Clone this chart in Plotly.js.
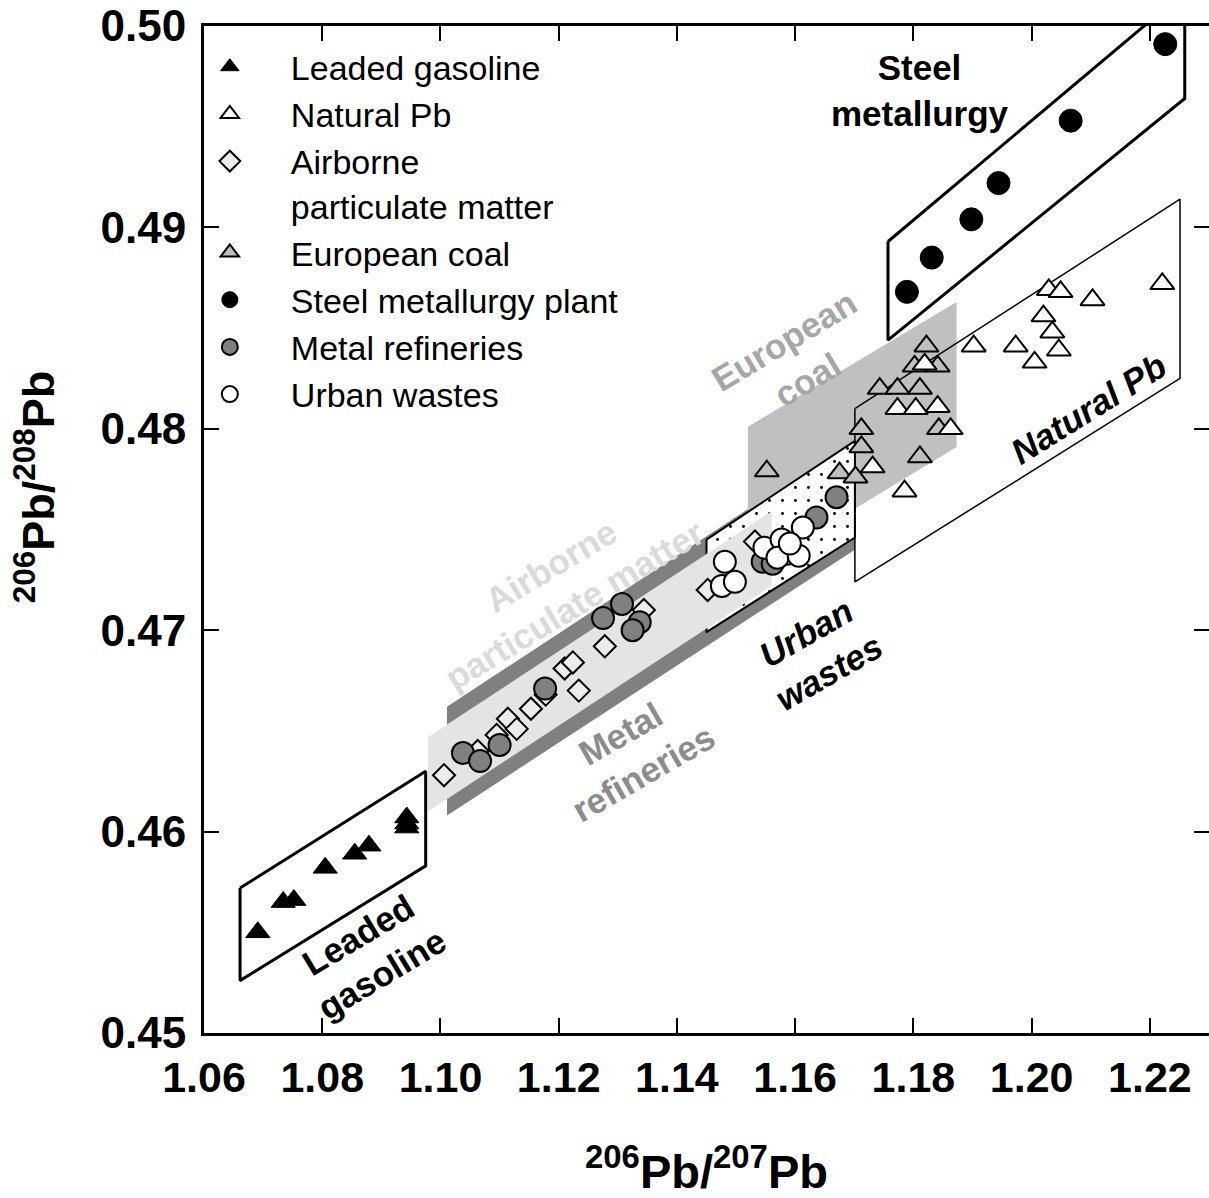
<!DOCTYPE html>
<html>
<head>
<meta charset="utf-8">
<script src="https://cdn.plot.ly/plotly-3.0.1.min.js"></script>
<style>html,body{margin:0;padding:0;background:#fff;}#chart{width:1209px;height:1198px;}</style>
</head>
<body>
<div id="chart"></div>
<script>
// ---------- Data points (206Pb/207Pb, 206Pb/208Pb) ----------
const leadedX = [1.0691, 1.0734, 1.0752, 1.0805, 1.0855, 1.0879, 1.0943, 1.0943, 1.0943];
const leadedY = [0.4550, 0.4565, 0.4566, 0.4582, 0.4589, 0.4593, 0.4607, 0.4604, 0.4602];

const naturalX = [1.1819, 1.1773, 1.1804, 1.1841, 1.1863, 1.1731, 1.1785,
                  1.2029, 1.2049, 1.2103, 1.2221, 1.2020, 1.2035, 1.2046, 1.1902, 1.1973, 1.2005];
const naturalY = [0.4832, 0.4810, 0.4810, 0.4811, 0.4800, 0.4781, 0.4769,
                  0.4869, 0.4868, 0.4864, 0.4872, 0.4856, 0.4848, 0.4839, 0.4841, 0.4841, 0.4833];

const airborneX = [1.1006, 1.1063, 1.1095, 1.1114, 1.1129, 1.1153, 1.1178, 1.1210, 1.1224, 1.1234, 1.1278, 1.1344, 1.1452, 1.1532];
const airborneY = [0.4628, 0.4640, 0.4648, 0.4656, 0.4651, 0.4661, 0.4668, 0.4681, 0.4684, 0.4670, 0.4692, 0.4710, 0.4720, 0.4744];

const coalX = [1.1552, 1.1822, 1.1802, 1.1841, 1.1743, 1.1773, 1.1811, 1.1843, 1.1712, 1.1712, 1.1675, 1.1702, 1.1811];
const coalY = [0.4779, 0.4841, 0.4831, 0.4831, 0.4820, 0.4820, 0.4820, 0.4800, 0.4800, 0.4791, 0.4778, 0.4776, 0.4786];

const steelX = [1.1789, 1.1831, 1.1898, 1.1944, 1.2066, 1.2226];
const steelY = [0.4868, 0.4885, 0.4904, 0.4922, 0.4953, 0.4991];

const refineryX = [1.1038, 1.1067, 1.1100, 1.1177, 1.1275, 1.1307, 1.1337, 1.1325, 1.1545, 1.1562, 1.1636, 1.1670];
const refineryY = [0.4639, 0.4635, 0.4643, 0.4671, 0.4706, 0.4713, 0.4704, 0.4700, 0.4734, 0.4733, 0.4756, 0.4766];

const urbanX = [1.1481, 1.1476, 1.1498, 1.1548, 1.1577, 1.1586, 1.1570, 1.1613, 1.1606, 1.1591];
const urbanY = [0.4734, 0.4722, 0.4724, 0.4741, 0.4745, 0.4738, 0.4736, 0.4751, 0.4737, 0.4743];

// ---------- Field outlines (vertices in data units) ----------
const refineryFieldX = [1.1011, 1.1701, 1.1701, 1.1011];
const refineryFieldY = [0.4662, 0.4795, 0.4740, 0.4608];

const airborneFieldX = [1.0979, 1.1560, 1.1560, 1.0979];
const airborneFieldY = [0.4647, 0.4759, 0.4722, 0.4610];

const coalFieldX = [1.1520, 1.1873, 1.1873, 1.1520];
const coalFieldY = [0.4801, 0.4863, 0.4791, 0.4728];

const urbanFieldX = [1.1450, 1.1701, 1.1701, 1.1450];
const urbanFieldY = [0.4745, 0.4794, 0.4746, 0.4699];

const naturalFieldX = [1.1701, 1.2251, 1.2251, 1.1701];
const naturalFieldY = [0.4810, 0.4914, 0.4825, 0.4724];

const steelFieldX = [1.1757, 1.2259, 1.2259, 1.1757];
const steelFieldY = [0.4893, 0.5017, 0.4964, 0.4844];

const leadedFieldX = [1.0661, 1.0975, 1.0975, 1.0661];
const leadedFieldY = [0.4572, 0.4630, 0.4583, 0.4526];

// ---------- Labels ----------
const legendNames = ["Leaded gasoline", "Natural Pb", "Airborne<br>particulate matter", "European coal",
                     "Steel metallurgy plant", "Metal refineries", "Urban wastes"];
const xTitle = "<sup>206</sup>Pb/<sup>207</sup>Pb";
const yTitle = "<sup>206</sup>Pb/<sup>208</sup>Pb";

const FONT = "Liberation Sans, Arial, sans-serif";
const close = a => a.concat([a[0]]);

function field(xs, ys, opts) {
  return Object.assign({
    type: 'scatter', mode: 'lines', x: close(xs), y: close(ys),
    fill: 'toself', showlegend: false, hoverinfo: 'skip'
  }, opts);
}

const traces = [
  field(refineryFieldX, refineryFieldY, {fillcolor: '#808080', line: {width: 0, color: 'rgba(0,0,0,0)'}}),
  field(coalFieldX, coalFieldY, {fillcolor: '#c0c0c0', line: {width: 0, color: 'rgba(0,0,0,0)'}}),
  field(urbanFieldX, urbanFieldY, {fillcolor: 'white', line: {width: 2, color: 'black'},
        fillpattern: {shape: '.', bgcolor: 'white', fgcolor: 'black', size: 13, solidity: 0.04}}),
  field(airborneFieldX, airborneFieldY, {fillcolor: '#e4e4e4', line: {width: 0, color: 'rgba(0,0,0,0)'}}),
  field(naturalFieldX, naturalFieldY, {fill: 'none', line: {width: 1.5, color: 'black'}}),
  field(steelFieldX, steelFieldY, {fill: 'none', line: {width: 3, color: 'black'}}),
  field(leadedFieldX, leadedFieldY, {fill: 'none', line: {width: 3, color: 'black'}}),
  {type: 'scatter', mode: 'markers', name: legendNames[2], legendrank: 3, x: airborneX, y: airborneY,
   marker: {symbol: 'diamond', size: 17, color: '#ececec', line: {width: 2, color: 'black'}}},
  {type: 'scatter', mode: 'markers', name: legendNames[5], legendrank: 6, x: refineryX, y: refineryY,
   marker: {symbol: 'circle', size: 22, color: '#808080', line: {width: 2, color: 'black'}}},
  {type: 'scatter', mode: 'markers', name: legendNames[6], legendrank: 7, x: urbanX, y: urbanY,
   marker: {symbol: 'circle', size: 22, color: 'white', line: {width: 2, color: 'black'}}},
  {type: 'scatter', mode: 'markers', name: legendNames[3], legendrank: 4, x: coalX, y: coalY,
   marker: {symbol: 'triangle-up', size: 21, color: '#bfbfbf', line: {width: 2, color: 'black'}}},
  {type: 'scatter', mode: 'markers', name: legendNames[1], legendrank: 2, x: naturalX, y: naturalY,
   marker: {symbol: 'triangle-up', size: 21, color: 'white', line: {width: 2, color: 'black'}}},
  {type: 'scatter', mode: 'markers', name: legendNames[0], legendrank: 1, x: leadedX, y: leadedY,
   marker: {symbol: 'triangle-up', size: 21, color: 'black', line: {width: 1, color: 'black'}}},
  {type: 'scatter', mode: 'markers', name: legendNames[4], legendrank: 5, x: steelX, y: steelY,
   marker: {symbol: 'circle', size: 23, color: 'black', line: {width: 1, color: 'black'}}}
];

function label(text, x, y, angle, color, italic) {
  return {
    text: text, x: x, y: y, xref: 'x', yref: 'y', showarrow: false, textangle: angle,
    align: 'center', xanchor: 'center', yanchor: 'middle',
    font: {family: FONT, size: 35, color: color, weight: 'bold', style: italic ? 'italic' : 'normal'}
  };
}

const layout = {
  width: 1209, height: 1198,
  margin: {l: 204, r: 0, t: 26, b: 165},
  paper_bgcolor: 'white', plot_bgcolor: 'white',
  font: {family: FONT, color: 'black'},
  showlegend: true,
  legend: {
    x: -0.035, y: 0.988, xanchor: 'left', yanchor: 'top',
    bgcolor: 'rgba(0,0,0,0)', borderwidth: 0, itemwidth: 112, valign: 'top',
    font: {family: FONT, size: 34, color: 'black'}, traceorder: 'normal'
  },
  xaxis: {
    range: [1.06, 1.23], tick0: 1.06, dtick: 0.02, tickformat: '.2f',
    ticks: 'inside', ticklen: 15, tickwidth: 2, tickcolor: 'black',
    showline: true, linewidth: 3, linecolor: 'black', mirror: 'ticks',
    showgrid: false, zeroline: false, ticklabelstandoff: 4,
    tickfont: {family: FONT, size: 43, weight: 'bold', color: 'black'},
    title: {text: xTitle, font: {family: FONT, size: 47, weight: 'bold', color: 'black'}, standoff: 56}
  },
  yaxis: {
    range: [0.45, 0.50], tick0: 0.45, dtick: 0.01, tickformat: '.2f',
    ticks: 'inside', ticklen: 15, tickwidth: 2, tickcolor: 'black',
    showline: true, linewidth: 3, linecolor: 'black', mirror: 'ticks',
    showgrid: false, zeroline: false, ticklabelstandoff: 6,
    tickfont: {family: FONT, size: 44, weight: 'bold', color: 'black'}
  },
  annotations: [
    {text: yTitle, xref: 'paper', yref: 'paper', x: -0.168, y: 0.542, textangle: -90, showarrow: false,
     xanchor: 'center', yanchor: 'middle', font: {family: FONT, size: 45, weight: 'bold', color: 'black'}},
    label('Steel<br>metallurgy', 1.1811, 0.4968, 0, 'black', false),
    label('Natural Pb', 1.2096, 0.4810, -32, 'black', true),
    label('European<br>coal', 1.1600, 0.4834, -31, '#a6a6a6', false),
    label('Airborne<br>particulate matter', 1.1207, 0.4722, -31, '#dadada', false),
    label('Metal<br>refineries', 1.1324, 0.4639, -30, '#8c8c8c', false),
    label('Urban<br>wastes', 1.1638, 0.4689, -30, 'black', true),
    label('Leaded<br>gasoline', 1.0881, 0.4539, -31, 'black', false)
  ]
};

Plotly.newPlot('chart', traces, layout, {staticPlot: true, displayModeBar: false});
</script>
</body>
</html>
